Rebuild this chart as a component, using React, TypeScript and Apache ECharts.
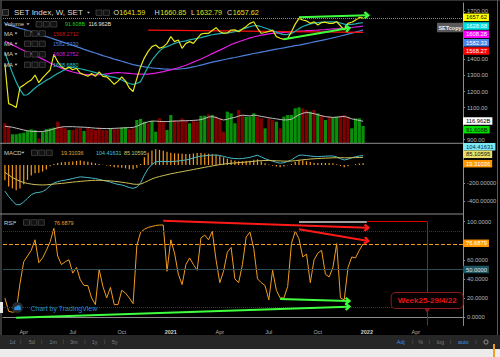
import React, { useEffect, useRef } from 'react';
import * as echarts from 'echarts';

const FONT = "'Liberation Sans', Arial, Helvetica, sans-serif";

// ---------- time axis (weekly bars) ----------
const FIRST_WEEK = '2020-03-02';
const WEEK_COUNT = 122;
const weeks: string[] = (() => {
  const out: string[] = [];
  const t0 = Date.parse(FIRST_WEEK + 'T00:00:00Z');
  for (let i = 0; i < WEEK_COUNT; i++) out.push(new Date(t0 + i * 7 * 864e5).toISOString().slice(0, 10));
  return out;
})();
const quarterNames: Record<number, string> = { 4: 'Apr', 7: 'Jul', 10: 'Oct' };

// ---------- price ----------
const closes = [
  1370, 1125, 1115, 1100, 1225, 1240, 1258, 1272, 1303, 1255,
  1285, 1310, 1334, 1432, 1386, 1355, 1340, 1352, 1336, 1345,
  1315, 1305, 1295, 1312, 1295, 1322, 1294, 1292, 1270, 1245,
  1265, 1292, 1265, 1222, 1200, 1282, 1355, 1410, 1450, 1480,
  1490, 1470, 1478, 1500, 1542, 1511, 1521, 1469, 1500, 1511,
  1500, 1530, 1558, 1563, 1563, 1580, 1598, 1573, 1563, 1565,
  1583, 1584, 1573, 1590, 1606, 1625, 1635, 1594, 1563, 1568,
  1575, 1583, 1542, 1532, 1525, 1531, 1573, 1620, 1656, 1646,
  1640, 1625, 1635, 1615, 1630, 1632, 1625, 1625, 1635, 1610,
  1583, 1625, 1632, 1645, 1662, 1657.62,
];
const maBlue = [
  1622, 1615, 1608, 1601, 1594, 1588, 1580, 1573, 1566, 1558,
  1550, 1542, 1535, 1527, 1519, 1511, 1503, 1496, 1488, 1480,
  1472, 1463, 1455, 1447, 1440, 1432, 1424, 1417, 1410, 1402,
  1396, 1389, 1382, 1375, 1368, 1363, 1358, 1354, 1350, 1347,
  1345, 1343, 1341, 1340, 1339, 1339, 1340, 1342, 1344, 1349,
  1354, 1359, 1365, 1371, 1377, 1383, 1388, 1393, 1398, 1403,
  1408, 1412, 1417, 1422, 1427, 1432, 1437, 1441, 1446, 1450,
  1455, 1460, 1464, 1468, 1472, 1477, 1481, 1486, 1489, 1494,
  1499, 1504, 1509, 1514, 1519, 1524, 1529, 1534, 1540, 1546,
  1552, 1558, 1564, 1570, 1576, 1582.33,
];
const maMagenta = [
  1515, 1503, 1491, 1479, 1467, 1456, 1446, 1436, 1426, 1414,
  1402, 1390, 1378, 1367, 1356, 1346, 1337, 1329, 1322, 1316,
  1311, 1307, 1305, 1304, 1304, 1305, 1307, 1310, 1313, 1316,
  1318, 1317, 1315, 1313, 1311, 1309, 1308, 1308, 1309, 1312,
  1315, 1319, 1324, 1330, 1335, 1341, 1348, 1356, 1364, 1373,
  1383, 1393, 1403, 1414, 1425, 1436, 1447, 1458, 1469, 1481,
  1493, 1502, 1510, 1518, 1526, 1534, 1540, 1546, 1551, 1555,
  1559, 1562, 1564, 1566, 1568, 1570, 1572, 1574, 1576, 1577,
  1579, 1580, 1582, 1583, 1585, 1586, 1588, 1590, 1591, 1593,
  1595, 1597, 1599, 1602, 1605, 1608.28,
];
const maCyan = [
  1440, 1380, 1315, 1260, 1212, 1178, 1180, 1200, 1222, 1240,
  1255, 1270, 1283, 1298, 1312, 1325, 1338, 1350, 1350, 1346,
  1342, 1337, 1331, 1325, 1318, 1311, 1305, 1299, 1293, 1288,
  1283, 1272, 1260, 1250, 1245, 1250, 1262, 1310, 1355, 1395,
  1425, 1452, 1472, 1480, 1490, 1500, 1507, 1512, 1516, 1522,
  1527, 1532, 1536, 1542, 1548, 1554, 1558, 1561, 1564, 1566,
  1569, 1573, 1580, 1588, 1597, 1604, 1610, 1611, 1604, 1596,
  1588, 1579, 1570, 1561, 1555, 1556, 1561, 1575, 1592, 1605,
  1614, 1622, 1626, 1630, 1632, 1633, 1634, 1635, 1634, 1627,
  1620, 1617, 1619, 1622, 1626, 1628.68,
];
// red MA drawn only over its visible stretch: [weekIndex, value]
const maRed = [[38, 1583], [95, 1568.27]];
const ohlcKeys = ['O', 'H', 'L', 'C'];
const ohlcValues = [1641.59, 1660.85, 1632.79, 1657.62];

// ---------- volume (billions) ----------
const volumes = [
  106, 90, 47, 47, 52, 55, 65, 74, 70, 25,
  61, 75, 79, 83, 115, 88, 79, 70, 70, 79,
  83, 65, 84, 75, 70, 83, 70, 70, 79, 75,
  75, 83, 86, 74, 79, 124, 130, 115, 106, 119,
  61, 133, 119, 70, 151, 124, 119, 133, 119, 106,
  119, 115, 146, 147, 155, 151, 142, 133, 61, 169,
  160, 106, 178, 151, 142, 142, 160, 142, 133, 79,
  133, 124, 115, 79, 142, 151, 151, 187, 192, 187,
  178, 169, 178, 160, 151, 124, 142, 138, 142, 146,
  151, 140, 79, 133, 133, 91.608,
];
const volumeUp = [
  0, 0, 1, 1, 1, 1, 1, 1, 1, 0,
  1, 1, 1, 1, 0, 0, 0, 1, 0, 0,
  0, 1, 0, 0, 0, 0, 0, 0, 1, 0,
  0, 1, 1, 0, 0, 1, 1, 1, 0, 1,
  1, 0, 0, 1, 1, 0, 0, 0, 0, 1,
  0, 0, 1, 1, 0, 1, 0, 0, 0, 1,
  1, 1, 0, 0, 1, 1, 1, 0, 0, 1,
  0, 0, 1, 0, 1, 1, 1, 1, 1, 0,
  0, 1, 0, 1, 0, 1, 0, 1, 1, 0,
  0, 0, 1, 1, 1, 1,
];
const volumeMA = [
  90, 88, 85, 80, 75, 70, 66, 63, 62, 61,
  62, 65, 70, 76, 82, 86, 88, 88, 88, 87,
  86, 85, 84, 82, 80, 79, 78, 78, 78, 79,
  80, 81, 82, 83, 84, 90, 100, 108, 114, 118,
  118, 116, 116, 115, 117, 118, 119, 120, 120, 121,
  122, 123, 126, 132, 140, 142, 138, 130, 124, 128,
  134, 138, 145, 150, 148, 146, 150, 148, 143, 140,
  136, 133, 130, 127, 124, 125, 128, 140, 152, 160,
  165, 162, 158, 152, 147, 142, 140, 138, 139, 142,
  143, 138, 130, 126, 122, 116.962,
];

// ---------- MACD ----------
const macdLine = [
  -290, -350, -400, -440, -440, -410, -370, -330, -310, -305,
  -295, -270, -230, -200, -185, -175, -168, -160, -150, -140,
  -132, -135, -140, -145, -150, -160, -170, -180, -190, -205,
  -215, -222, -235, -250, -259, -245, -200, -110, -40, 5,
  35, 40, 40, 38, 37, 40, 45, 50, 56, 65,
  78, 90, 98, 103, 107, 110, 111, 105, 95, 85,
  76, 72, 70, 72, 78, 85, 98, 108, 90, 70,
  56, 42, 30, 20, 25, 40, 56, 85, 108, 110,
  105, 100, 95, 93, 95, 98, 100, 100, 90, 70,
  56, 65, 80, 92, 100, 104.41631,
];
const signalLine = [
  -80, -110, -140, -160, -180, -195, -205, -212, -218, -220,
  -222, -220, -216, -212, -208, -205, -200, -195, -190, -186,
  -182, -178, -175, -172, -170, -170, -172, -174, -177, -181,
  -186, -191, -197, -204, -212, -215, -212, -195, -175, -155,
  -140, -128, -118, -108, -98, -90, -82, -74, -66, -58,
  -50, -42, -34, -26, -18, -10, -3, 4, 10, 15,
  19, 23, 27, 30, 33, 37, 41, 46, 49, 50,
  50, 49, 47, 45, 43, 43, 44, 48, 53, 58,
  62, 66, 69, 72, 74, 76, 78, 80, 81, 81,
  80, 80, 81, 82, 83.5, 85.10595,
];
const macdHist = [
  -170, -240, -260, -280, -260, -215, -165, -118, -92, -85,
  -73, -50, -14, 12, 23, 30, 32, 35, 40, 46,
  50, 43, 35, 27, 20, 10, 2, -6, -13, -24,
  -29, -31, -38, -46, -47, -30, 12, 85, 135, 160,
  175, 168, 158, 146, 135, 130, 127, 124, 122, 123,
  128, 132, 132, 129, 125, 120, 114, 101, 85, 70,
  57, 49, 43, 42, 45, 48, 57, 62, 41, 20,
  6, -7, -17, -25, -18, -3, 12, 37, 55, 52,
  43, 34, 26, 21, 21, 22, 22, 20, 9, -11,
  -24, -15, -1, 10, 16.5, 19.31036,
];

// ---------- RSI ----------
const rsi = [
  20, 6, 5, 6, 35, 58, 64, 70, 81, 57,
  62, 70, 79, 93, 64, 55, 58, 60, 46, 52,
  39, 33, 33, 20, 13, 50, 32, 20, 31, 13,
  13, 28, 25, 20, 14, 75, 89, 92, 94, 95,
  96, 96.5, 96.5, 48, 81, 67, 45, 34, 55, 62,
  55, 49, 83, 86, 81, 90, 60, 36, 48, 68,
  73, 40, 36, 55, 84, 89, 72, 40, 36, 33,
  18, 49, 28, 20, 20, 32, 77, 90, 82, 63,
  66, 36, 60, 67, 70, 45, 42, 52, 77, 20,
  18, 52, 63, 62, 70, 76.6879,
];
const rsiLevels = { upper: 90, middle: 50, lower: 10 };

// ---------- drawings (week index, value) ----------
const priceArrows = [
  { from: [78, 1662.6], to: [96, 1675], color: '#3dff3d' },
  { from: [74, 1525.5], to: [91, 1594], color: '#3dff3d' },
];
const rsiArrows = [
  { from: [42, 101], to: [96, 93.7], color: '#ff1a1a' },
  { from: [78, 92], to: [96, 80], color: '#ff1a1a' },
  { from: [73, 18.9], to: [91, 16.8], color: '#3dff3d' },
  { from: [3, -0.7], to: [91, 10.8], color: '#3dff3d' },
];
const rsiTopLine = { from: 78, to: 96, value: 100 };
const targetWeek = 112;
const targetLabel = 'Week25-29/4/22';

const priceTicks = [900, 1100, 1200, 1300, 1400, 1700];
const macdTicks = [-200, -400];
const rsiTicks = [0, 20, 40, 60, 100];

const CHEVRON = 'path://M5,0 L10,5.5 L8,7.5 L5,4 L2,7.5 L0,5.5 Z';

function isQuarterStart(v: string) {
  const m = Number(v.slice(5, 7));
  const d = Number(v.slice(8, 10));
  return (m - 1) % 3 === 0 && d <= 7;
}

function arrowItem(a: any) {
  return [
    { coord: a.from, lineStyle: { color: a.color, width: 2, type: 'solid' } },
    { coord: a.to, symbol: CHEVRON, symbolSize: [8, 6.5], itemStyle: { color: a.color } },
  ];
}

function buildGraphic() {
  const g: any[] = [];
  const Z = 100;
  const text = (x: number, y: number, t: string, fill: string, size: number, extra: any = {}) =>
    g.push({
      type: 'text', x, y, z: Z, silent: true,
      style: {
        text: t, fill, fontSize: size, fontFamily: FONT, fontWeight: extra.bold ? 'bold' : 'normal',
        textAlign: extra.align || 'left', verticalAlign: 'middle',
        backgroundColor: extra.bg, padding: extra.padding, borderRadius: extra.radius,
      },
    });
  const rect = (x: number, y: number, w: number, h: number, fill: string, stroke?: string, lw = 1) =>
    g.push({ type: 'rect', z: Z, silent: true, shape: { x, y, width: w, height: h }, style: { fill, stroke, lineWidth: lw } });
  const line = (x1: number, y1: number, x2: number, y2: number, stroke: string, lw = 1) =>
    g.push({ type: 'line', z: Z, silent: true, shape: { x1, y1, x2, y2 }, style: { stroke, lineWidth: lw } });
  const caret = (x: number, y: number) =>
    g.push({ type: 'polygon', z: Z, silent: true, shape: { points: [[x, y - 1], [x + 3, y - 1], [x + 1.5, y + 1]] }, style: { fill: '#b8b8b8' } });
  const icons = (x: number, y: number, n: number) => {
    for (let k = 0; k < n; k++) rect(x + k * 7.4, y - 2.8, 6, 5.6, '#121212', '#555', 0.6);
  };

  // frame
  line(0, 0.5, 500, 0.5, '#333', 1);
  line(1, 0, 1, 335, '#4a4a4a', 1.5);
  line(497.5, 0, 497.5, 345, '#5a5a5a', 1);

  // header
  rect(2.5, 9.5, 6, 6, '#1a1a1a', '#5a5a5a', 0.8);
  text(14, 12.8, 'SET Index, W, SET', '#dcdcdc', 8);
  caret(87, 12.8);
  icons(96, 12.8, 2);
  const ohlcX = [113.5, 154.5, 191, 227];
  ohlcKeys.forEach((k, i) => {
    text(ohlcX[i], 12.8, k, '#dcdcdc', 7.2);
    text(ohlcX[i] + (k === 'L' ? 5 : 5.7), 12.8, ohlcValues[i].toFixed(2), '#e0e020', 7.2);
  });

  // legends
  const LV = 5.4;
  text(4, 24.3, 'Volume', '#cfcfcf', 6);
  caret(26.5, 24.3);
  icons(36, 24.3, 3);
  text(65, 24.3, (volumes[volumes.length - 1]).toFixed(3) + 'B', '#1ed21e', LV);
  text(88.5, 24.3, volumeMA[volumeMA.length - 1].toFixed(3) + 'B', '#e6e6e6', LV);
  const maRows = [
    ['1568.2712', '#c81818'],
    ['1582.3330', '#4a7fd8'],
    ['1608.2752', '#d41ed4'],
    ['1628.6880', '#22c4c4'],
  ];
  const maY = [33.5, 43.8, 54.3, 64.8];
  maRows.forEach((r, i) => {
    text(4, maY[i], 'MA', '#cfcfcf', 6);
    caret(14.5, maY[i]);
    icons(24.5, maY[i], 3);
    text(53, maY[i], r[0], r[1], LV);
  });
  text(4, 152.8, 'MACD', '#cfcfcf', 6);
  caret(21.5, 152.8);
  icons(31.5, 152.8, 3);
  text(61, 152.8, macdHist[macdHist.length - 1].toFixed(5), '#f0a030', LV);
  text(96, 152.8, macdLine[macdLine.length - 1].toFixed(5), '#4cc8d8', LV);
  text(124, 152.8, signalLine[signalLine.length - 1].toFixed(5), '#d4c860', LV);
  text(4, 222.5, 'RSI', '#cfcfcf', 6);
  caret(13.5, 222.5);
  icons(23.5, 222.5, 3);
  text(54, 222.5, rsi[rsi.length - 1].toFixed(4), '#f0a030', LV);

  // pane separators
  line(0, 143.3, 463, 143.3, '#8c8c8c', 1);
  line(0, 214, 463, 214, '#8c8c8c', 1);

  // last value labels on the right scale
  const last = (a: number[]) => a[a.length - 1];
  const tags: any[] = [
    [last(closes).toFixed(2), 17.3, '#ffff00', '#000'],
    [last(maCyan).toFixed(2), 26, '#00e0e0', '#ffffff'],
    [last(maMagenta).toFixed(2), 34.3, '#ff00ff', '#ffffff'],
    [last(maBlue).toFixed(2), 42.7, '#4a86e8', '#ffffff'],
    [maRed[1][1].toFixed(2), 51, '#ff0000', '#ffffff'],
    [last(volumeMA).toFixed(3) + 'B', 121, '#ffffff', '#000'],
    [last(volumes).toFixed(3) + 'B', 129.7, '#00dd00', '#002000'],
    [last(macdLine).toFixed(5), 146.7, '#80e8f5', '#003040'],
    [last(signalLine).toFixed(5), 154.3, '#e8dc6a', '#202000'],
    [last(macdHist).toFixed(5), 163.7, '#ff9800', '#ffffff'],
    [last(rsi).toFixed(4), 243.3, '#ff9800', '#ffffff'],
    [rsiLevels.middle.toFixed(4), 269.5, '#1b5563', '#e0e0e0'],
  ];
  tags.forEach((t) => text(463, t[1], t[0], t[3], 5.8, { bg: t[2], padding: [1, 2, 0.5, 3] }));
  text(450, 27.5, 'SETcopy', '#f0f0f0', 5.5, { bold: true, align: 'center', bg: '#5a5a5a', padding: [2, 1.5, 1.5, 1.5] });

  // watermark
  rect(0, 302, 3, 11, '#e8e8e8');
  g.push({ type: 'circle', z: Z, silent: true, shape: { cx: 17.5, cy: 307.5, r: 5.5 }, style: { fill: '#2b2b2b' } });
  g.push({ type: 'circle', z: Z, silent: true, shape: { cx: 16, cy: 308.3, r: 1.7 }, style: { fill: '#2a90e0' } });
  g.push({ type: 'circle', z: Z, silent: true, shape: { cx: 18.6, cy: 307.4, r: 2.2 }, style: { fill: '#2a90e0' } });
  rect(14.4, 308.3, 6.4, 1.8, '#2a90e0');
  text(30.5, 308.5, 'Chart by TradingView', '#2a8ad4', 7);

  // bottom toolbar
  rect(0, 335, 500, 14, '#262626');
  rect(0, 349, 500, 8, '#ececec');
  rect(493, 344, 2, 13, '#f0a020');
  const leftBtns = ['1d', '5d', '1m', '3m', '1y', '5y'];
  const leftX = [12.2, 31.7, 53, 73.7, 94.7, 114.7];
  leftBtns.forEach((b, i) => text(leftX[i], 342, b, '#7c7c7c', 5.5, { align: 'center' }));
  [20.7, 41.7, 63.3, 85, 104.7].forEach((x) => line(x, 339.5, x, 344.5, '#4a4a4a', 0.8));
  const rightBtns = [['Adj', 400.8, '#3d8ee0'], ['%', 420.7, '#7c7c7c'], ['log', 440.3, '#7c7c7c'], ['auto', 463.3, '#3d8ee0']];
  rightBtns.forEach((b: any) => text(b[1], 342, b[0], b[2], 5.5, { align: 'center' }));
  [412.7, 429.3, 450.7, 476].forEach((x) => line(x, 339.5, x, 344.5, '#4a4a4a', 0.8));
  g.push({ type: 'ring', z: Z, silent: true, shape: { cx: 486, cy: 342, r: 2.6, r0: 1.4 }, style: { fill: '#7c7c7c' } });
  return g;
}

export default function App() {
  const ref = useRef<HTMLDivElement>(null);
  useEffect(() => {
    document.body.style.margin = '0';
    if (!ref.current) return;
    const chart = echarts.init(ref.current, null, { renderer: 'svg' });

    const grids = [
      { left: 3, top: 3, width: 460, height: 140 },
      { left: 3, top: 100, width: 460, height: 43 },
      { left: 3, top: 143, width: 460, height: 71 },
      { left: 3, top: 214, width: 460, height: 111.5 },
    ];
    const xAxes = grids.map((_, gi) => ({
      type: 'category',
      gridIndex: gi,
      data: weeks,
      boundaryGap: true,
      show: gi === 3,
      axisLine: { lineStyle: { color: '#8c8c8c' } },
      axisTick: { interval: (_i: number, v: string) => isQuarterStart(v), length: 2, lineStyle: { color: '#8c8c8c' } },
      axisLabel: {
        interval: (_i: number, v: string) => isQuarterStart(v),
        formatter: (v: string) => {
          const m = Number(v.slice(5, 7));
          return m === 1 ? '{y|' + v.slice(0, 4) + '}' : quarterNames[m];
        },
        color: '#b0b0b0',
        fontSize: 5.5,
        fontFamily: FONT,
        margin: 3,
        rich: { y: { fontWeight: 'bold', color: '#d0d0d0', fontSize: 5.5, fontFamily: FONT } },
      },
      splitLine: { show: false },
    }));
    const rightAxis = (gi: number, min: number, max: number, split: number, ticks: number[], digits: number) => ({
      type: 'value',
      gridIndex: gi,
      position: 'right',
      min, max,
      splitNumber: split,
      scale: true,
      splitLine: { show: false },
      axisLine: { show: true, lineStyle: { color: '#8c8c8c' } },
      axisTick: { show: true, length: 2, lineStyle: { color: '#8c8c8c' } },
      axisLabel: {
        showMinLabel: false,
        showMaxLabel: false,
        color: '#b8b8b8',
        fontSize: 5.8,
        fontFamily: FONT,
        margin: 4,
        formatter: (v: number) => (ticks.some((t) => Math.abs(t - v) < 1e-6) ? v.toFixed(digits) : ''),
      },
    });
    const yAxes = [
      rightAxis(0, 879.4, 1751.7, 9, priceTicks, 2),
      { type: 'value', gridIndex: 1, min: 0, max: 231.8, show: false, splitLine: { show: false } },
      rightAxis(2, -544.4, 244.4, 4, macdTicks, 5),
      rightAxis(3, -8.92, 108.08, 5, rsiTicks, 4),
    ];

    const line = (data: any[], color: string, width: number, xi: number, extra: any = {}) => ({
      type: 'line', data, xAxisIndex: xi, yAxisIndex: xi, symbol: 'none', showSymbol: false,
      lineStyle: { color, width }, itemStyle: { color }, silent: true, z: 3, ...extra,
    });

    const series: any[] = [
      {
        type: 'bar', xAxisIndex: 1, yAxisIndex: 1, barWidth: 3.2, silent: true, z: 2,
        data: volumes.map((v, i) => ({ value: v, itemStyle: { color: volumeUp[i] ? '#0a8f0a' : '#800000' } })),
      },
      line(volumeMA, '#bdbdbd', 1, 1),
      line(maBlue, '#4a7fd8', 1.2, 0),
      line(maMagenta, '#e51ee5', 1.2, 0),
      line(maRed, '#ff1010', 1.2, 0, {
        markLine: {
          silent: true, symbol: ['none', 'none'], label: { show: false },
          lineStyle: { type: 'dotted', color: '#9a9a00', width: 1 },
          data: [{ yAxis: closes[closes.length - 1] }],
        },
      }),
      line(maCyan, '#1fb0b0', 1.2, 0),
      line(closes, '#e6e619', 1.2, 0, {
        z: 4,
        markLine: {
          silent: true, symbol: ['none', 'none'], label: { show: false },
          lineStyle: { type: 'solid', width: 2 },
          data: priceArrows.map(arrowItem),
        },
      }),
      { type: 'bar', xAxisIndex: 2, yAxisIndex: 2, barWidth: 1.2, silent: true, data: macdHist, itemStyle: { color: '#f39a1e' }, z: 2 },
      line(macdLine, '#46b9c9', 1, 2),
      line(signalLine, '#cdbf55', 1, 2),
      line(rsi, '#f39c1f', 1, 3, {
        markLine: {
          silent: true, symbol: ['none', 'none'], label: { show: false },
          lineStyle: { type: 'solid', width: 1 },
          data: [
            { yAxis: rsiLevels.upper, lineStyle: { color: '#7a1a1a', type: 'dotted', width: 1 } },
            { yAxis: rsiLevels.lower, lineStyle: { color: '#7a1a1a', type: 'dotted', width: 1 } },
            { yAxis: rsiLevels.middle, lineStyle: { color: '#2c4c56', type: 'solid', width: 1 } },
            { yAxis: rsi[rsi.length - 1], lineStyle: { color: '#f39c1f', type: 'dashed', width: 1 } },
            [{ coord: [rsiTopLine.from, rsiTopLine.value], lineStyle: { color: '#d0d0d0', width: 1.5, type: 'solid' } }, { coord: [rsiTopLine.to, rsiTopLine.value] }],
            [{ coord: [rsiTopLine.to, rsiTopLine.value], lineStyle: { color: '#e00000', width: 1, type: 'solid' } }, { coord: [targetWeek, rsiTopLine.value] }],
            [{ coord: [targetWeek, rsiTopLine.value], lineStyle: { color: '#e00000', width: 1, type: 'solid' } }, { coord: [targetWeek, -8.92] }],
            ...rsiArrows.map(arrowItem),
          ],
        },
        markPoint: {
          silent: true,
          data: [{
            coord: [targetWeek, 4.2],
            symbol: 'path://M0,0 L10,0 L5,8 Z',
            symbolSize: [6, 5],
            symbolOffset: [0, '-50%'],
            itemStyle: { color: '#8b1a1a' },
            label: {
              show: true, position: 'top', distance: 0, formatter: targetLabel,
              color: '#e01515', fontSize: 8, fontWeight: 'bold', fontFamily: FONT,
              backgroundColor: '#050000', borderColor: '#8b1a1a', borderWidth: 1, borderRadius: 4,
              padding: [4, 6, 3, 6],
            },
          }],
        },
      }),
    ];

    chart.setOption({
      animation: false,
      backgroundColor: '#000000',
      grid: grids,
      xAxis: xAxes,
      yAxis: yAxes,
      series,
      graphic: buildGraphic(),
    });
    return () => chart.dispose();
  }, []);
  return <div ref={ref} style={{ width: 500, height: 357 }} />;
}
